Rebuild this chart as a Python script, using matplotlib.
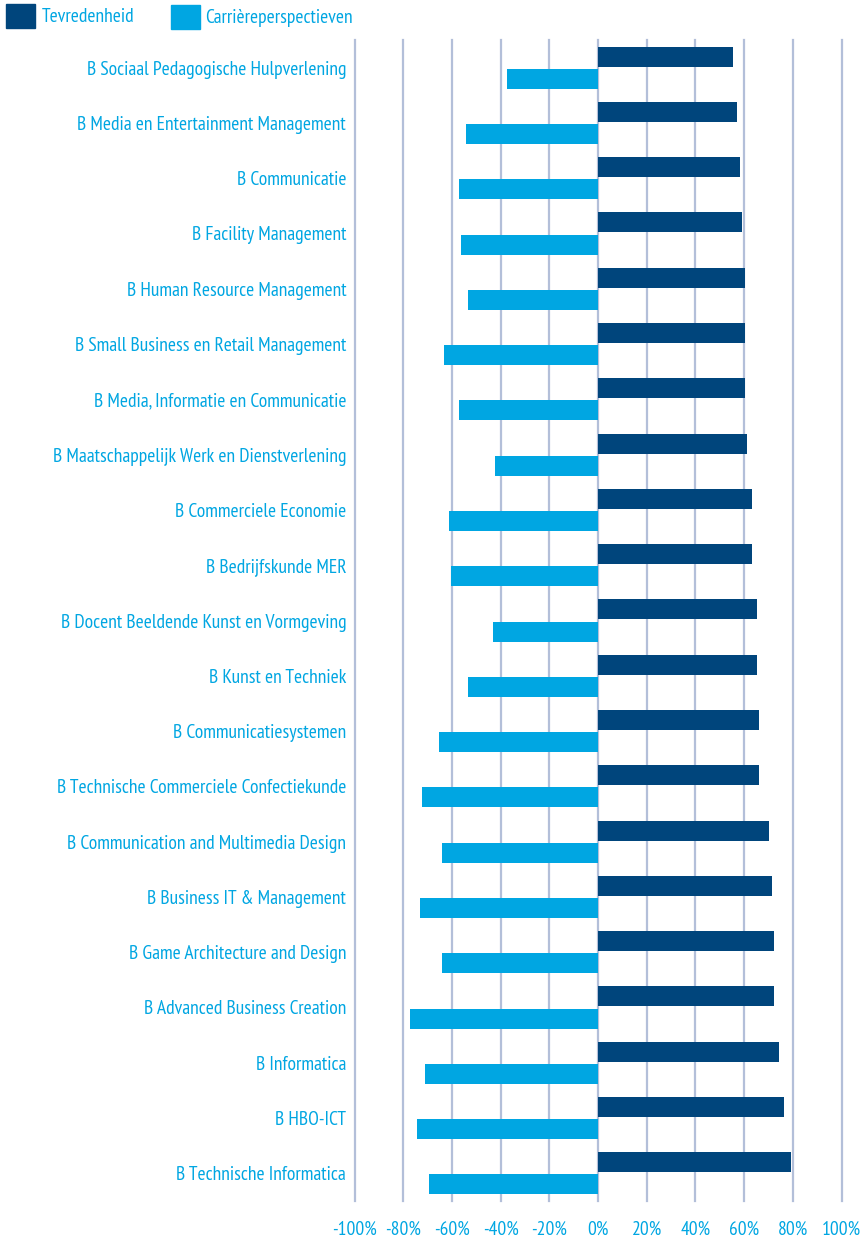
import matplotlib
matplotlib.use('Agg')
import matplotlib.pyplot as plt
from matplotlib.patches import Rectangle

# Opleidingen (van boven naar beneden)
opleidingen = [
    'B Sociaal Pedagogische Hulpverlening',
    'B Media en Entertainment Management',
    'B Communicatie',
    'B Facility Management',
    'B Human Resource Management',
    'B Small Business en Retail Management',
    'B Media, Informatie en Communicatie',
    'B Maatschappelijk Werk en Dienstverlening',
    'B Commerciele Economie',
    'B Bedrijfskunde MER',
    'B Docent Beeldende Kunst en Vormgeving',
    'B Kunst en Techniek',
    'B Communicatiesystemen',
    'B Technische Commerciele Confectiekunde',
    'B Communication and Multimedia Design',
    'B Business IT & Management',
    'B Game Architecture and Design',
    'B Advanced Business Creation',
    'B Informatica',
    'B HBO-ICT',
    'B Technische Informatica',
]

# percentages
tevredenheid = [55.4, 57.1, 58.3, 59.1, 60.2, 60.2, 60.2, 61.2, 63.2, 63.2, 65.3,
                65.3, 66.1, 66.1, 70.2, 71.5, 72.3, 72.3, 74.4, 76.4, 79.4]
carriere = [-37.5, -54.2, -57.1, -56.3, -53.4, -63.2, -57.1, -42.3, -61.2, -60.4, -43.1,
            -53.4, -65.3, -72.3, -64.1, -73.1, -64.1, -77.2, -71.0, -74.3, -69.4]

x_ticks = [-100, -80, -60, -40, -20, 0, 20, 40, 60, 80, 100]
x_labels = [f'{t}%' for t in x_ticks]

donker = '#00457c'
licht = '#00a6e2'
rasterkleur = '#b3bfd9'

plt.rcParams['font.family'] = ['PT Sans Narrow', 'Roboto Condensed', 'DejaVu Sans']
fs = 14

W, H = 865, 1238
fig = plt.figure(figsize=(W / 100, H / 100), dpi=100)
ax = fig.add_axes([354.5 / W, 1 - 1201 / H, 487 / W, 1161 / H])

y = list(range(len(opleidingen)))
hoogte = 0.36
ax.barh([i - 0.2 for i in y], tevredenheid, height=hoogte, color=donker, zorder=3)
ax.barh([i + 0.2 for i in y], carriere, height=hoogte, color=licht, zorder=3)

# verticale rasterlijnen
for t in x_ticks:
    ax.axvline(t, color=rasterkleur, linewidth=1.6, zorder=1, clip_on=False)

ax.set_xlim(-100, 100)
ax.set_ylim(len(opleidingen) - 0.5, -0.5)
ax.set_yticks(y)
ax.set_yticklabels(opleidingen)
ax.set_xticks(x_ticks)
ax.set_xticklabels(x_labels)
ax.tick_params(axis='y', length=0, pad=6, labelsize=fs, labelcolor=licht)
ax.tick_params(axis='x', length=0, pad=14, labelsize=fs, labelcolor=licht)
for s in ax.spines.values():
    s.set_visible(False)

# legenda bovenaan
fig.patches.append(Rectangle((6 / W, 1 - 28 / H), 29 / W, 24 / H,
                             transform=fig.transFigure, color=donker))
fig.text(42 / W, 1 - 17 / H, 'Tevredenheid', color=licht, fontsize=fs, va='center')
fig.patches.append(Rectangle((171 / W, 1 - 29 / H), 29 / W, 24 / H,
                             transform=fig.transFigure, color=licht))
fig.text(205 / W, 1 - 18 / H, 'Carrièreperspectieven', color=licht, fontsize=fs, va='center')

fig.savefig('out.png', dpi=100)
